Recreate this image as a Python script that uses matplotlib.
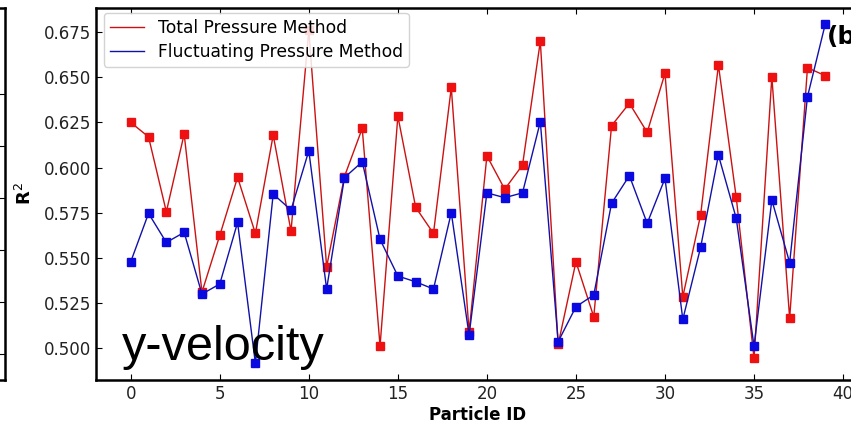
import matplotlib
matplotlib.use("Agg")
import matplotlib.pyplot as plt
import numpy as np

particle_ids = list(range(40))
total_pressure = [0.625, 0.617, 0.5755, 0.6186, 0.531, 0.5624, 0.5946, 0.5635, 0.618, 0.5648,
                  0.676, 0.545, 0.595, 0.6217, 0.5011, 0.6285, 0.578, 0.5635, 0.6444, 0.509,
                  0.6065, 0.588, 0.6014, 0.670, 0.502, 0.5478, 0.5173, 0.6232, 0.6356, 0.6195,
                  0.6522, 0.5284, 0.5737, 0.6568, 0.5835, 0.4943, 0.6503, 0.5165, 0.6553, 0.6509]
fluct_pressure = [0.5478, 0.5746, 0.5585, 0.5641, 0.5299, 0.5355, 0.5696, 0.4915, 0.5853, 0.5765,
                  0.6093, 0.5327, 0.5944, 0.6032, 0.5602, 0.5399, 0.5367, 0.5327, 0.575, 0.5072,
                  0.586, 0.5833, 0.586, 0.6254, 0.5035, 0.5229, 0.5294, 0.5802, 0.5955, 0.5691,
                  0.594, 0.5159, 0.5558, 0.6069, 0.5719, 0.501, 0.582, 0.5473, 0.6392, 0.6795]
y_ticks = [0.500, 0.525, 0.550, 0.575, 0.600, 0.625, 0.650, 0.675]
x_ticks = [0, 5, 10, 15, 20, 25, 30, 35, 40]

W, H = 851, 425
fig = plt.figure(figsize=(W / 100, H / 100), dpi=100)

def px_axes(left, top, right, bottom):
    return fig.add_axes([left / W, 1 - bottom / H, (right - left) / W, (bottom - top) / H])

# remnant of previous panel at far left
ax0 = px_axes(-300, 8, 5, 380)
ax0.set_xticks([])
ax0.set_ylim(0, 1)
ax0.set_yticks(np.linspace(0.07, 0.77, 6))
ax0.tick_params(axis='y', direction='in', left=False, right=True, labelleft=False, length=4)
for s in ax0.spines.values():
    s.set_linewidth(1.8)

ax = px_axes(96, 8, 860, 380)
ax.plot(particle_ids, total_pressure, color='#cc1111', lw=1.0, marker='s', ms=6,
        mfc='#ee1111', mec='#ee1111', label='Total Pressure Method', zorder=3)
ax.plot(particle_ids, fluct_pressure, color='#1111aa', lw=1.0, marker='s', ms=6,
        mfc='#0a0ae0', mec='#0a0ae0', label='Fluctuating Pressure Method', zorder=4)

ax.set_xlim(-1.95, 40.95)
ax.set_ylim(0.4823, 0.6884)
ax.set_xticks(x_ticks)
ax.set_yticks(y_ticks)
ax.set_yticklabels([f"{v:.3f}" for v in y_ticks])
ax.tick_params(direction='in', top=True, right=True, labelsize=12, length=4,
               labelcolor='#222222')
for s in ax.spines.values():
    s.set_linewidth(1.8)

ax.set_xlabel('Particle ID', fontsize=12, fontweight='bold', labelpad=2)
ax.set_ylabel(r'$\mathbf{R}^2$', fontsize=13, fontweight='bold', labelpad=6)

leg = ax.legend(loc='upper left', bbox_to_anchor=(0.006, 0.996), fontsize=12.3,
                frameon=True, fancybox=True, framealpha=0.85, edgecolor='#cccccc',
                handlelength=2.0, borderpad=0.35, labelspacing=0.35, borderaxespad=0.2)
leg.set_zorder(5)
for h in leg.legend_handles:
    h.set_marker('')

ax.text(0.034, 0.054, 'y-velocity', transform=ax.transAxes, fontsize=35,
        family='Liberation Sans', color='black', ha='left', va='baseline', zorder=6)
ax.text(39.1, 0.6725, '(b)', fontsize=18, fontweight='bold', ha='left', va='center', zorder=6)

fig.savefig('out.png', dpi=100)
